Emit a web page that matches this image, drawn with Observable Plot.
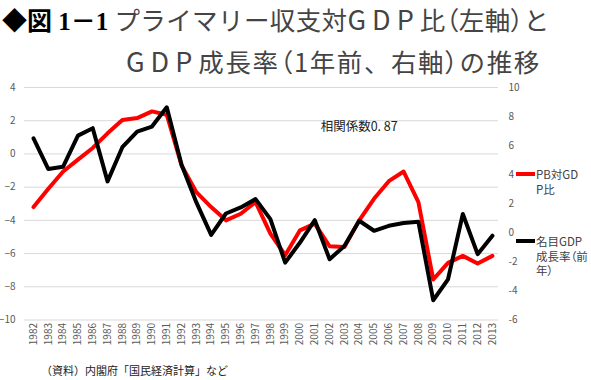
<!DOCTYPE html>
<html>
<head>
<meta charset="utf-8">
<script src="https://cdn.jsdelivr.net/npm/d3@7"></script>
<script src="https://cdn.jsdelivr.net/npm/@observablehq/plot@0.6"></script>
<style>
  html, body { margin: 0; padding: 0; background: #fff; }
  body { width: 591px; height: 380px; position: relative; overflow: hidden; font-family: "Noto Sans CJK JP", "Noto Sans", sans-serif; }
  .abs { position: absolute; white-space: nowrap; }
  .t { font-size: 25.5px; line-height: 30px; color: #444; }
  .p { font-feature-settings: "palt"; }
  .g { font-size: 27px; letter-spacing: 6px; }
  .lg { font-size: 11.5px; line-height: 14.5px; color: #404040; font-feature-settings: "palt"; }
  .sw { position: absolute; height: 4px; width: 19px; }
</style>
</head>
<body>
<div class="abs t" style="left:2px; top:4px; letter-spacing:0.4px;"><span style="font-family:'Liberation Serif','Noto Sans CJK JP',serif; font-weight:bold; color:#000; font-size:25px; letter-spacing:0;">◆図 1－1</span> プライマリー収支対<span class="g">GDP</span>比<span class="p">（</span>左軸<span class="p">）</span>と</div>
<div class="abs t" style="left:126px; top:46px; letter-spacing:1.6px;"><span class="g">GDP</span>成長率<span class="p">（</span>1年前、右軸<span class="p">）</span>の推移</div>
<div id="chart" class="abs" style="left:0; top:80px;"></div>
<div class="sw" style="left:516px; top:172px; background:#ff0000;"></div>
<div class="abs lg" style="left:536px; top:167px;">PB対GD<br>P比</div>
<div class="sw" style="left:516px; top:239px; background:#000;"></div>
<div class="abs lg" style="left:536px; top:234px;">名目GDP<br>成長率（前<br>年）</div>
<div class="abs" style="left:41px; top:362px; font-size:11px; color:#222;">（資料）内閣府「国民経済計算」など</div>
<script>
const years = [1982,1983,1984,1985,1986,1987,1988,1989,1990,1991,1992,1993,1994,1995,1996,1997,1998,1999,2000,2001,2002,2003,2004,2005,2006,2007,2008,2009,2010,2011,2012,2013];
// プライマリー収支対GDP比（左軸, %）
const pbRatio = [-3.2,-2.1,-1.06,-0.34,0.36,1.24,2.04,2.16,2.56,2.36,-0.7,-2.3,-3.2,-4.0,-3.6,-2.9,-4.8,-6.1,-4.6,-4.2,-5.56,-5.6,-4.0,-2.7,-1.64,-1.06,-2.9,-7.56,-6.56,-6.14,-6.6,-6.14];
// 名目GDP成長率（前年, 右軸, %）
const gdpGrowth = [6.5,4.39,4.55,6.69,7.2,3.54,5.89,6.97,7.31,8.64,4.69,2.09,-0.14,1.33,1.75,2.32,0.94,-2.05,-0.67,0.87,-1.82,-0.9,0.83,0.14,0.48,0.67,0.76,-4.64,-3.2,1.29,-1.47,-0.2];
const leftTicks = [4,2,0,-2,-4,-6,-8,-10];
const rightTicks = [10,8,6,4,2,0,-2,-4,-6];
const note = "相関係数0. 87";

const leftDomain = [-10, 4];
const rightDomain = [-6, 10];
const toLeft = r => leftDomain[0] + (r - rightDomain[0]) * (leftDomain[1] - leftDomain[0]) / (rightDomain[1] - rightDomain[0]);
const toRight = l => Math.round(rightDomain[0] + (l - leftDomain[0]) * (rightDomain[1] - rightDomain[0]) / (leftDomain[1] - leftDomain[0]));

const data = years.map((y, i) => ({year: y, pb: pbRatio[i], gdp: gdpGrowth[i]}));

const chart = Plot.plot({
  width: 591,
  height: 275,
  marginLeft: 24,
  marginRight: 93,
  marginTop: 7,
  marginBottom: 35.5,
  x: {type: "linear", domain: [1981.39, 2013.41]},
  y: {domain: leftDomain},
  style: {fontFamily: "'Noto Sans CJK JP', 'Noto Sans', sans-serif", fontSize: "10px", color: "#595959", background: "transparent"},
  marks: [
    Plot.gridY(leftTicks, {stroke: "#d9d9d9", strokeOpacity: 1}),
    Plot.axisY(leftTicks, {anchor: "left", tickSize: 0, tickPadding: 9, label: null, fontSize: 10}),
    Plot.axisY(rightTicks.map(toLeft), {anchor: "right", tickSize: 0, tickPadding: 10, label: null, tickFormat: v => String(toRight(v)), fontSize: 10}),
    Plot.axisX(years, {anchor: "bottom", tickSize: 0, tickPadding: 3, tickRotate: -90, tickFormat: d => String(d), label: null, fontSize: 10}),
    Plot.line(data, {x: "year", y: "pb", stroke: "#ff0000", strokeWidth: 4}),
    Plot.line(data, {x: "year", y: d => toLeft(d.gdp), stroke: "#000000", strokeWidth: 4}),
    Plot.text([note], {x: 2004, y: 1.6, text: d => d, fontSize: 12.5, fill: "#222"})
  ]
});
document.getElementById("chart").appendChild(chart);
</script>
</body>
</html>
